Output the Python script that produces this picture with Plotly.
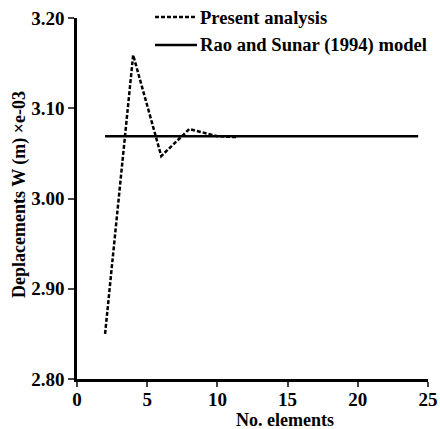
import plotly.graph_objects as go

present_x = [2, 4, 6, 8, 9, 10, 11.4]
present_y = [2.85, 3.159, 3.047, 3.077, 3.073, 3.069, 3.068]
rao_x = [2, 24.3]
rao_y = [3.069, 3.069]

x_ticks = [0, 5, 10, 15, 20, 25]
x_labels = ["0", "5", "10", "15", "20", "25"]
y_ticks = [2.80, 2.90, 3.00, 3.10, 3.20]
y_labels = ["2.80", "2.90", "3.00", "3.10", "3.20"]
legend_names = ["Present analysis", "Rao and Sunar (1994) model"]
x_title = "No. elements"
y_title = "Deplacements W (m) \u00d7e-03"

FAM = "Liberation Serif"
font = dict(family=FAM, size=18, color="black")
dash_style = "4px,2px"

fig = go.Figure()
fig.add_trace(go.Scatter(x=present_x, y=present_y, mode="lines", name=legend_names[0],
                         line=dict(color="black", width=2.5, dash=dash_style)))
fig.add_trace(go.Scatter(x=rao_x, y=rao_y, mode="lines", name=legend_names[1],
                         line=dict(color="black", width=2.5)))

L, R, T, B = 77, 428, 18, 379
def px(x):
    return (x - L) / (R - L)
def py(y):
    return (B - y) / (B - T)

# manual legend (sample lines + text)
legend_rows = [(17, dash_style), (45, "solid")]
for (yy, ds), name in zip(legend_rows, legend_names):
    fig.add_shape(type="line", xref="paper", yref="paper", x0=px(155), x1=px(197), y0=py(yy), y1=py(yy),
                  line=dict(color="black", width=2.5, dash=ds))
    fig.add_annotation(xref="paper", yref="paper", x=px(198), y=py(yy), xanchor="left", yanchor="middle",
                       text="<b>%s</b>" % name, showarrow=False, font=dict(family=FAM, size=18.6, color="black"))

# axis titles
fig.add_annotation(xref="paper", yref="paper", x=px(285), y=py(420), xanchor="center", yanchor="middle",
                   text="<b>%s</b>" % x_title, showarrow=False, font=dict(family=FAM, size=18, color="black"))
fig.add_annotation(xref="paper", yref="paper", x=px(19), y=py(195), xanchor="center", yanchor="middle",
                   textangle=-90, text="<b>%s</b>" % y_title, showarrow=False,
                   font=dict(family=FAM, size=18, color="black"))

fig.update_layout(
    width=440, height=429,
    margin=dict(l=L, r=440 - R, t=T, b=429 - B),
    plot_bgcolor="white", paper_bgcolor="white",
    font=font,
    showlegend=False,
    xaxis=dict(range=[0, 25], tickvals=x_ticks, ticktext=["<b>%s</b>" % t for t in x_labels],
               ticks="outside", ticklen=5, tickwidth=2, automargin=False, ticklabelstandoff=-4,
               showline=True, linewidth=2.5, linecolor="black", showgrid=False, zeroline=False,
               tickfont=dict(family=FAM, size=19)),
    yaxis=dict(range=[2.80, 3.20], tickvals=y_ticks, ticktext=["<b>%s</b>" % t for t in y_labels],
               ticks="outside", ticklen=6, tickwidth=2, automargin=False,
               showline=True, linewidth=2.5, linecolor="black", showgrid=False, zeroline=False,
               tickfont=dict(family=FAM, size=19)),
)
fig.write_html("out.html")
